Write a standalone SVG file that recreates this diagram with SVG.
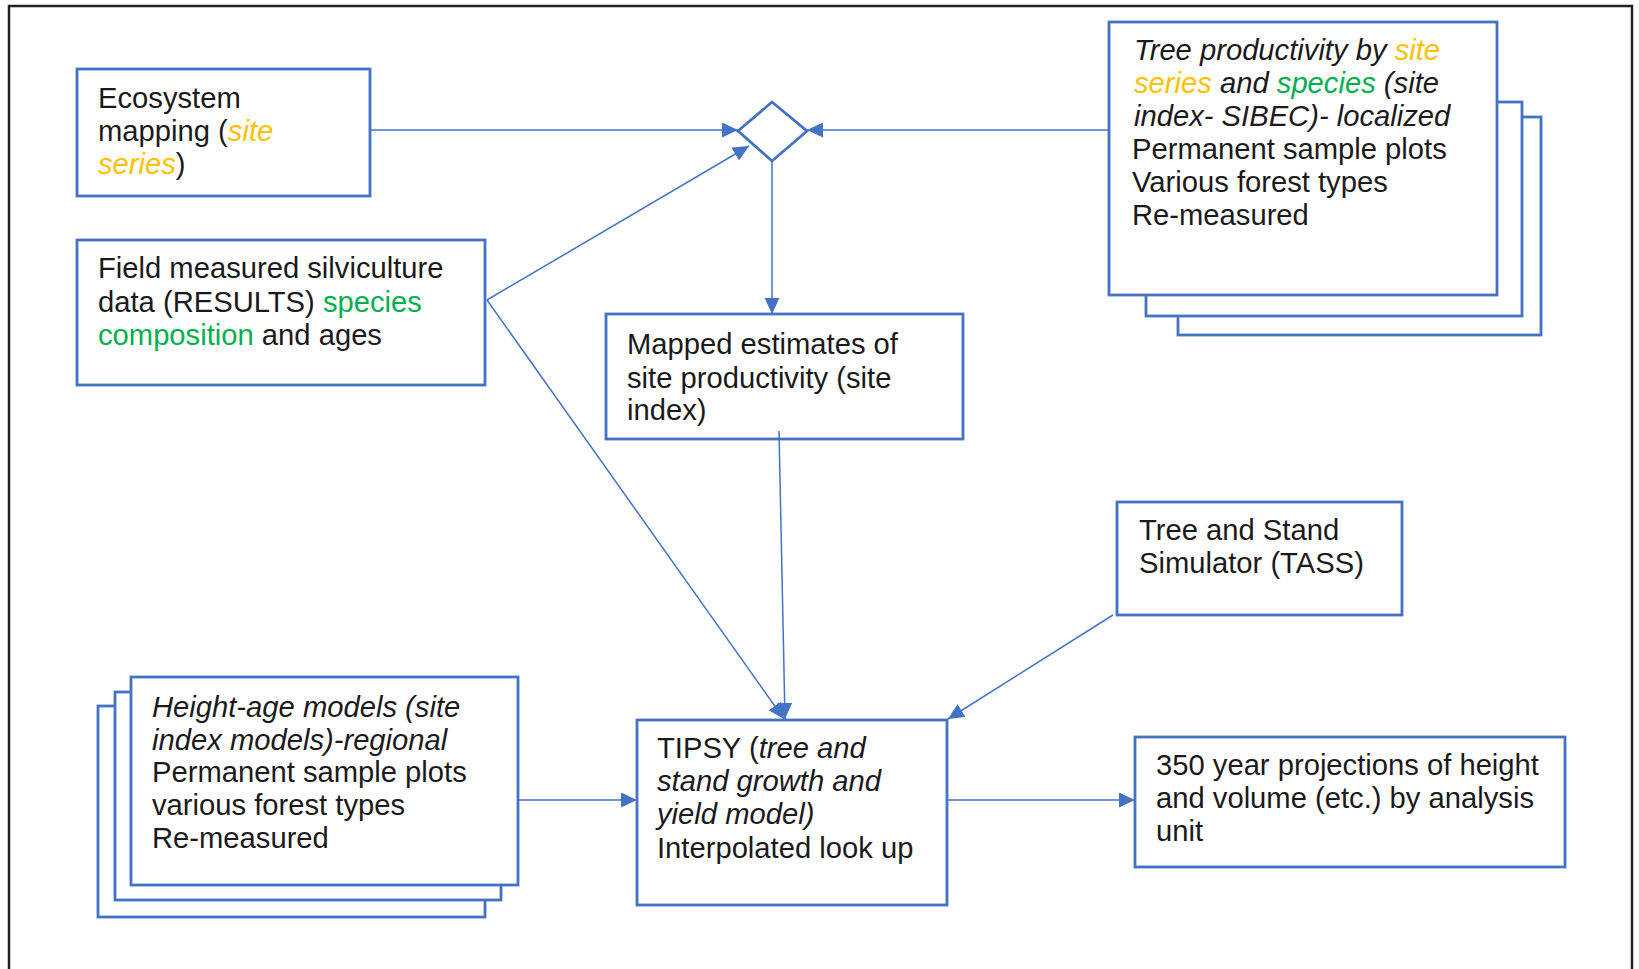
<svg xmlns="http://www.w3.org/2000/svg" width="1639" height="969" viewBox="0 0 1639 969">
<defs>
<marker id="arr" markerUnits="userSpaceOnUse" markerWidth="17" markerHeight="16" refX="16" refY="7.5" orient="auto">
<path d="M0,0 L16,7.5 L0,15 z" fill="#4472C4"/>
</marker>
<style>
.box{fill:#fff;stroke:#4472C4;stroke-width:2.8}
.con{fill:none;stroke:#4472C4;stroke-width:1.5;marker-end:url(#arr)}
text{font-family:"Liberation Sans",Arial,sans-serif;font-size:29.2px;fill:#1a1a1a}
.i{font-style:italic}
.y{fill:#FFC000}
.g{fill:#00B050}
</style>
</defs>
<rect width="1639" height="969" fill="#fff"/>
<path d="M9,969 V6 H1632 V969" fill="none" stroke="#222" stroke-width="2.5"/>

<g id="ecosystem">
<rect class="box" x="77" y="69" width="293" height="127"/>
<text x="98" y="108">Ecosystem</text>
<text x="98" y="141">mapping (<tspan class="i y">site</tspan></text>
<text x="98" y="174"><tspan class="i y">series</tspan>)</text>
</g>

<g id="field">
<rect class="box" x="77" y="240" width="408" height="145"/>
<text x="98" y="278">Field measured silviculture</text>
<text x="98" y="312">data (RESULTS) <tspan class="g">species</tspan></text>
<text x="98" y="345"><tspan class="g">composition</tspan> and ages</text>
</g>

<g id="decision">
<polygon points="772,102 807,131 772,161 738,131" fill="#fff" stroke="#4472C4" stroke-width="2.8"/>
</g>

<g id="tree-productivity">
<rect class="box" x="1178" y="117" width="363" height="218"/>
<rect class="box" x="1146" y="102" width="376" height="214"/>
<rect class="box" x="1109" y="22" width="388" height="273"/>
<text x="1134" y="60" class="i">Tree productivity by <tspan class="y">site</tspan></text>
<text x="1134" y="93" class="i"><tspan class="y">series</tspan> and <tspan class="g">species</tspan> (site</text>
<text x="1134" y="126" class="i">index- SIBEC)- localized</text>
<text x="1132" y="159">Permanent sample plots</text>
<text x="1132" y="192">Various forest types</text>
<text x="1132" y="225">Re-measured</text>
</g>

<g id="mapped">
<rect class="box" x="606" y="314" width="357" height="125"/>
<text x="627" y="354">Mapped estimates of</text>
<text x="627" y="388">site productivity (site</text>
<text x="627" y="420">index)</text>
</g>

<g id="tass">
<rect class="box" x="1117" y="502" width="285" height="113"/>
<text x="1139" y="540">Tree and Stand</text>
<text x="1139" y="573">Simulator (TASS)</text>
</g>

<g id="height-age">
<rect class="box" x="98" y="706" width="387" height="211"/>
<rect class="box" x="115" y="692" width="386" height="208"/>
<rect class="box" x="131" y="677" width="387" height="208"/>
<text x="152" y="717" class="i">Height-age models (site</text>
<text x="152" y="750" class="i">index models)-regional</text>
<text x="152" y="782">Permanent sample plots</text>
<text x="152" y="815">various forest types</text>
<text x="152" y="848">Re-measured</text>
</g>

<g id="tipsy">
<rect class="box" x="637" y="720" width="310" height="185"/>
<text x="657" y="758">TIPSY (<tspan class="i">tree and</tspan></text>
<text x="657" y="791" class="i">stand growth and</text>
<text x="657" y="824" class="i">yield model)</text>
<text x="657" y="858">Interpolated look up</text>
</g>

<g id="projections">
<rect class="box" x="1135" y="737" width="430" height="130"/>
<text x="1156" y="775">350 year projections of height</text>
<text x="1156" y="808">and volume (etc.) by analysis</text>
<text x="1156" y="841">unit</text>
</g>

<g id="connectors">
<line class="con" x1="370" y1="130" x2="738" y2="130"/>
<line class="con" x1="1109" y1="130" x2="807" y2="130"/>
<line class="con" x1="487" y1="300" x2="749" y2="146"/>
<line class="con" x1="772" y1="162" x2="772" y2="314"/>
<line class="con" x1="487" y1="300" x2="784" y2="719"/>
<line class="con" x1="779" y1="431" x2="785" y2="719"/>
<line class="con" x1="1113" y1="615" x2="948" y2="719"/>
<line class="con" x1="518" y1="800" x2="637" y2="800"/>
<line class="con" x1="947" y1="800" x2="1135" y2="800"/>
</g>
</svg>
